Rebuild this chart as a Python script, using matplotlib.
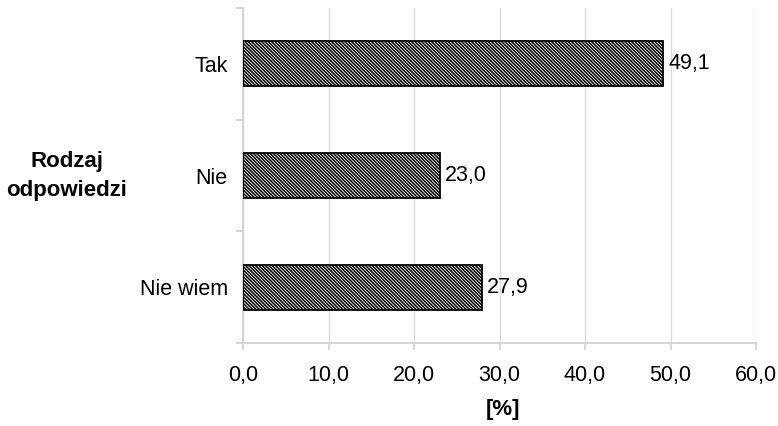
import matplotlib
matplotlib.use("Agg")
import matplotlib.pyplot as plt
from matplotlib.ticker import FixedLocator

plt.rcParams['font.family'] = ['Liberation Sans', 'DejaVu Sans']
plt.rcParams['hatch.color'] = '#1a1a1a'
plt.rcParams['hatch.linewidth'] = 1.1

categories = ["Tak", "Nie", "Nie wiem"]
values = [49.1, 23.0, 27.9]
xticks = [0, 10, 20, 30, 40, 50, 60]

def fmt(v):
    return f"{v:.1f}".replace(".", ",")

fs = 15.5

fig = plt.figure(figsize=(7.78, 4.26), dpi=100)
ax = fig.add_axes([243/778, 1 - 343/426, (756 - 243)/778, (343 - 8)/426])

pos = [2, 1, 0]
ax.barh(pos, values, height=0.4, color='white', edgecolor='black',
        linewidth=1.3, hatch='\\' * 10, zorder=3)

for p, v in zip(pos, values):
    ax.annotate(fmt(v), (v, p), xytext=(4, 0), textcoords='offset points',
                va='center', ha='left', fontsize=fs, color='black')

ax.set_xlim(0, 60)
ax.set_ylim(-0.5, 2.5)
ax.set_xticks(xticks)
ax.set_xticklabels([fmt(t) for t in xticks], fontsize=fs)
ax.set_yticks(pos)
ax.set_yticklabels(categories, fontsize=fs)
ax.yaxis.set_minor_locator(FixedLocator([-0.5, 0.5, 1.5, 2.5]))
ax.tick_params(axis='y', which='major', length=0, pad=11)
ax.tick_params(axis='y', which='minor', length=5, color='#d0d0d0', width=1.2)
ax.tick_params(axis='x', length=5, color='#d0d0d0', width=1.2, pad=11)

ax.grid(axis='x', color='#dcdcdc', linewidth=1.0, zorder=0)
for s in ['top', 'right']:
    ax.spines[s].set_visible(False)
for s in ['left', 'bottom']:
    ax.spines[s].set_color('#d0d0d0')
    ax.spines[s].set_linewidth(1.2)

fig.text(67/778, 1 - 176/426, "Rodzaj\nodpowiedzi", ha='center', va='center',
         fontsize=16, fontweight='bold', linespacing=1.5)
fig.text(503/778, 1 - 410/426, "[%]", ha='center', va='center',
         fontsize=16, fontweight='bold')

fig.savefig("out.png", dpi=100)
